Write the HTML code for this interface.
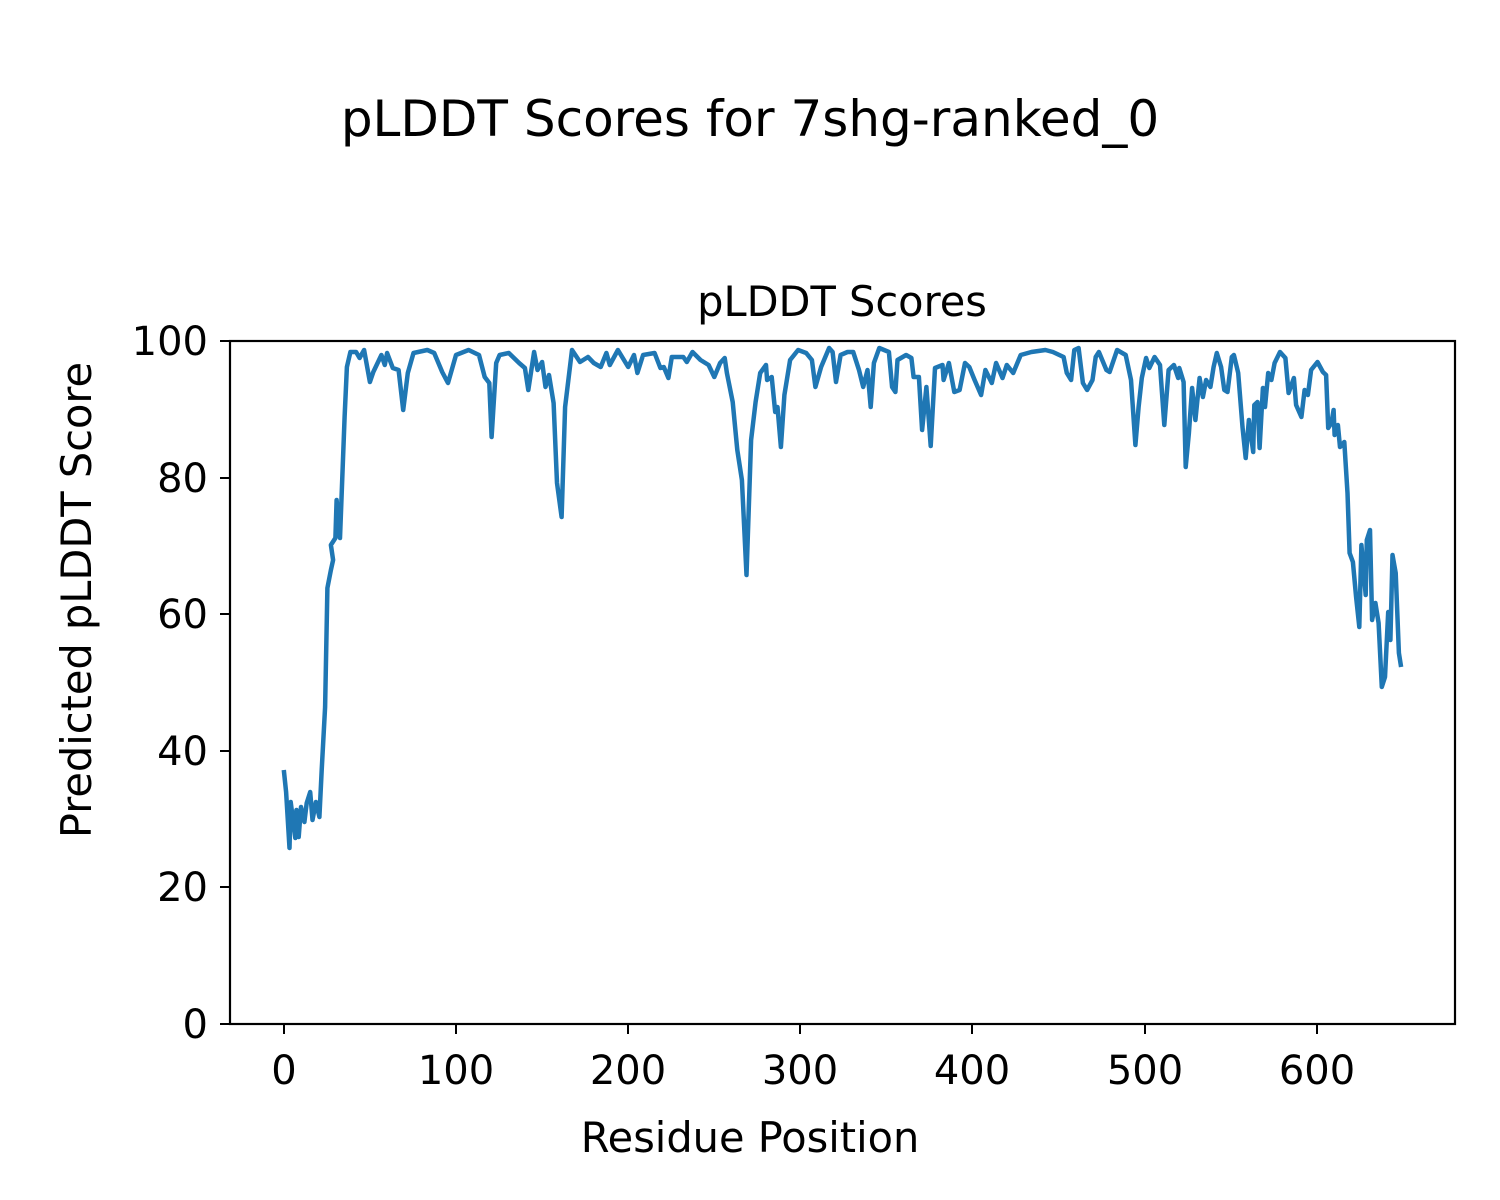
<!DOCTYPE html>
<html><head><style>body{margin:0;background:#fff}svg{display:block}text{font-family:"DejaVu Sans","Liberation Sans",sans-serif;fill:#000}</style></head>
<body>
<svg width="1500" height="1200" xmlns="http://www.w3.org/2000/svg">
<rect width="1500" height="1200" fill="#fff"/>
<text x="750" y="136" font-size="50" text-anchor="middle">pLDDT Scores for 7shg-ranked_0</text>
<text x="842" y="316" font-size="41.5" text-anchor="middle">pLDDT Scores</text>
<polyline fill="none" stroke="#1f77b4" stroke-width="4.5" stroke-linejoin="round" points="
283.8,770 286.1,792 289.5,848 290.7,802 295.3,838 296.4,810 298.7,837 301,807 304.4,822 306.7,803 310.2,792 312.5,820 315.9,802 319.4,817 321.7,770 325.1,707 327.4,588 330.9,570 333.1,560 330.9,545 335.4,538 336.6,500 340,538 344.6,417 346.9,367 350.4,352 356.1,352 359.6,358 364.1,350 369.9,382 373.3,372 381.4,355 384.8,365 387.1,353 392.8,368 398.6,370 403.2,410 407.8,373 413.5,353 427.3,350 434.2,353 442.2,372 448,383 456,355 468.6,350 479,355 484.7,377 489.3,383 491.6,437 496.2,363 499.6,355 508.8,353 519.1,363 524.9,368 528.3,390 534.1,352 537.5,370 542.1,362 545.5,387 549,375 553.6,403 557,483 561.6,517 565.1,407 572,350 580,362 588,357 593.8,363 600.7,367 606.4,353 609.8,365 617.9,350 628.2,367 634,355 637.4,373 643.1,355 654.6,353 660.4,368 663.8,367 668.4,378 671.8,357 683.3,357 686.8,362 692.5,352 700.5,360 708.6,365 714.3,377 720.1,363 724.7,358 726.9,373 732.7,402 737.3,450 741.9,480 746.5,575 751.1,440 755.6,402 760.2,373 766,365 767.1,380 771.7,377 775.2,412 777.5,407 780.9,447 784.4,395 790.1,360 798.1,350 806.2,353 811.9,360 815.4,387 821.1,367 829.1,348 832.6,352 836,382 840.6,355 847.5,352 853.2,352 859,370 
863.2,387 867.5,370 870.7,407 873.9,363 879.3,348 888.9,352 892.1,387 895.4,392 897.5,360 906.1,355 911.4,358 913.6,377 918.9,377 922.1,430 926.4,387 930.7,446 935,368 942.5,365 943.6,380 948.9,363 954.3,392 959.6,390 965,363 969.3,367 974.6,380 981.1,395 985.4,370 991.8,383 996.1,363 1002.5,378 1006.8,365 1013.2,373 1020.7,355 1031.4,352 1045.4,350 1052.9,352 1063.6,357 1066.8,373 1071.1,380 1074.3,350 1078.6,348 1082.9,383 1087.1,390 1092.5,380 1095.7,357 1098.9,352 1106.4,370 1109.6,372 1117.1,350 1125.7,355 1131,380 1135.4,445 1138.6,407 1141.8,378 1146.1,358 1149.3,368 1154.6,357 1160,365 1164.3,425 1168.6,370 1173.9,365 1178.2,378 1179.3,368 1183.6,382 1185.7,467 1188.9,433 1192.1,388 1195.4,420 1199.6,378 1202.9,397 1206.1,380 1210.4,387 1213.6,367 1216.8,353 1221.1,367 1224.3,390 1227.5,392 1231.8,357 1233.9,355 1238.2,373 1242.5,427 1245.7,458 1248.9,420 1253.2,452 1254.3,405 1257.5,402 1259.6,448 1262.9,388 1265,407 1268.2,373 1271.4,380 1274.6,363 1280,352 1285.4,358 1288.6,393 1293.9,378 1296.1,405 1301.4,417 1304.6,390 1307.9,395 1311.1,370 1317.5,362 1322.9,372 1326.1,375 1328.2,428 1331.4,423 1333.6,410 1334.6,435 1337.9,425 1340,447 1344.3,442 1347.5,493 1349.6,553 1352.9,562 1356.1,597 1359.3,627 1361.4,545 1365.7,595 1366.8,540 1370,530 1372.1,620 1375.4,603 1378.6,623 1381.8,687 1385,677 1388.2,612 1390.4,640 1392.5,555 1395.7,573 1398.9,653 1401.1,667"/>
<rect x="230" y="341" width="1225" height="683" fill="none" stroke="#000" stroke-width="2.2"/>
<g stroke="#000" stroke-width="2">
<line x1="284" y1="1024" x2="284" y2="1034"/><line x1="456" y1="1024" x2="456" y2="1034"/><line x1="628" y1="1024" x2="628" y2="1034"/><line x1="800" y1="1024" x2="800" y2="1034"/><line x1="972" y1="1024" x2="972" y2="1034"/><line x1="1145" y1="1024" x2="1145" y2="1034"/><line x1="1317" y1="1024" x2="1317" y2="1034"/>
<line x1="220" y1="1024" x2="230" y2="1024"/><line x1="220" y1="887" x2="230" y2="887"/><line x1="220" y1="751" x2="230" y2="751"/><line x1="220" y1="614" x2="230" y2="614"/><line x1="220" y1="478" x2="230" y2="478"/><line x1="220" y1="341" x2="230" y2="341"/>
</g>
<g font-size="40" text-anchor="middle">
<text x="284" y="1084">0</text><text x="456" y="1084">100</text><text x="628" y="1084">200</text><text x="800" y="1084">300</text><text x="972" y="1084">400</text><text x="1145" y="1084">500</text><text x="1317" y="1084">600</text>
</g>
<g font-size="40" text-anchor="end">
<text x="208" y="1038">0</text><text x="208" y="901">20</text><text x="208" y="765">40</text><text x="208" y="628">60</text><text x="208" y="492">80</text><text x="208" y="355">100</text>
</g>
<text x="750" y="1152" font-size="41.5" text-anchor="middle">Residue Position</text>
<text transform="translate(91,600) rotate(-90)" font-size="41.5" text-anchor="middle">Predicted pLDDT Score</text>
</svg>
</body></html>
